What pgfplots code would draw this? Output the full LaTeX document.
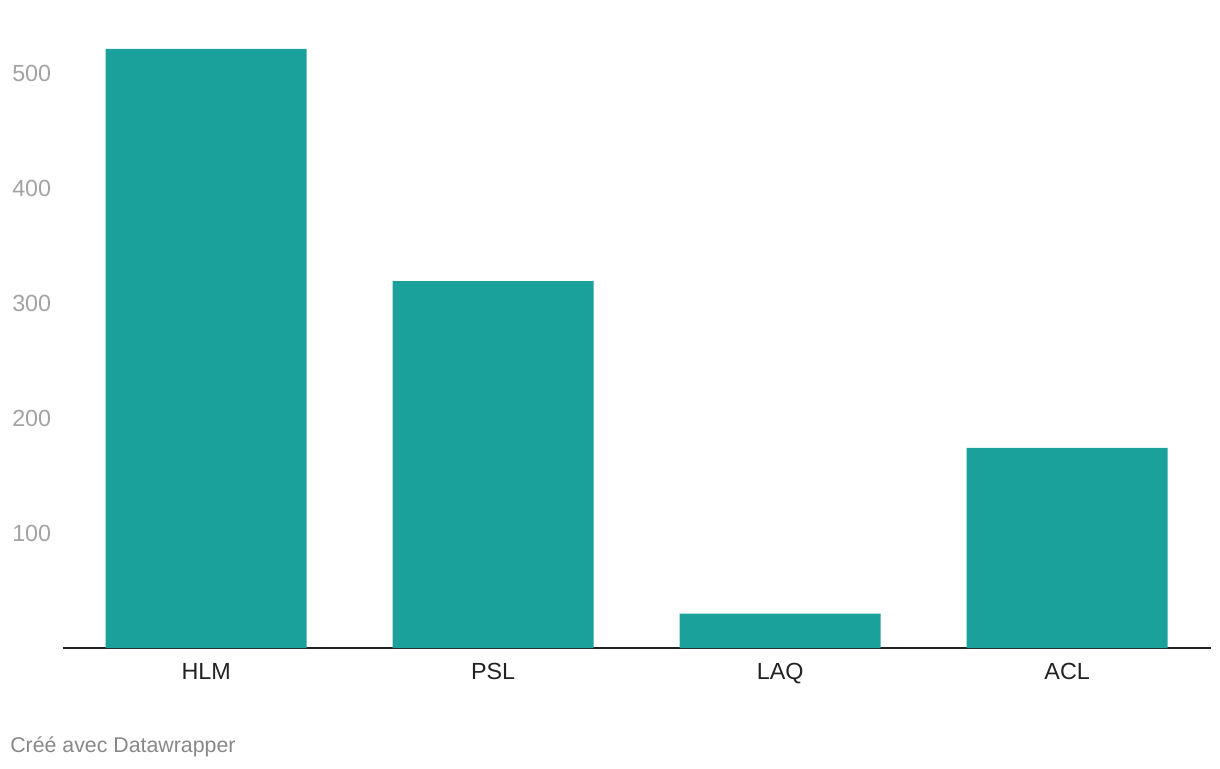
\documentclass[border=0pt]{standalone}
\usepackage{pgfplots}
\pgfplotsset{compat=1.18}
\usepackage{fontspec}
\setmainfont{Liberation Sans}
\definecolor{barcol}{HTML}{1BA19C}
\definecolor{ylab}{HTML}{A3A3A3}
\definecolor{xlab}{HTML}{222222}
\definecolor{foot}{HTML}{888888}
\begin{document}
\begin{tikzpicture}
\useasboundingbox (0,0) rectangle (915pt,576pt);
\begin{axis}[
  at={(47pt,90pt)},
  scale only axis,
  width=861pt, height=465.75pt,
  xmin=-0.5, xmax=3.5, ymin=0, ymax=540,
  anchor=south west,
  axis x line*=bottom, axis y line*=left,
  separate axis lines,
  x axis line style={draw=xlab, line width=1.5pt, -},
  y axis line style={draw=none},
  major tick length=0pt,
  xtick={0,1,2,3},
  xticklabels={HLM,PSL,LAQ,ACL},
  ytick={100,200,300,400,500},
  /pgf/number format/assume math mode=true,
  xticklabel style={font=\fontsize{17.5pt}{20pt}\selectfont, text=xlab, anchor=north, inner sep=0pt, yshift=-11.25pt},
  yticklabel style={font=\fontsize{17.5pt}{20pt}\selectfont, text=ylab, anchor=west, inner sep=0pt, xshift=-38pt},
  ybar, bar width=150.75pt, bar shift=0pt,
  clip=false,
]
\addplot[fill=barcol, draw=none] coordinates {(0,521) (1,319) (2,30) (3,174)};
\end{axis}
\node[anchor=base west, inner sep=0pt, text=foot, font=\fontsize{16pt}{19pt}\selectfont] at (7.5pt,12pt) {Créé avec Datawrapper};
\end{tikzpicture}
\end{document}
